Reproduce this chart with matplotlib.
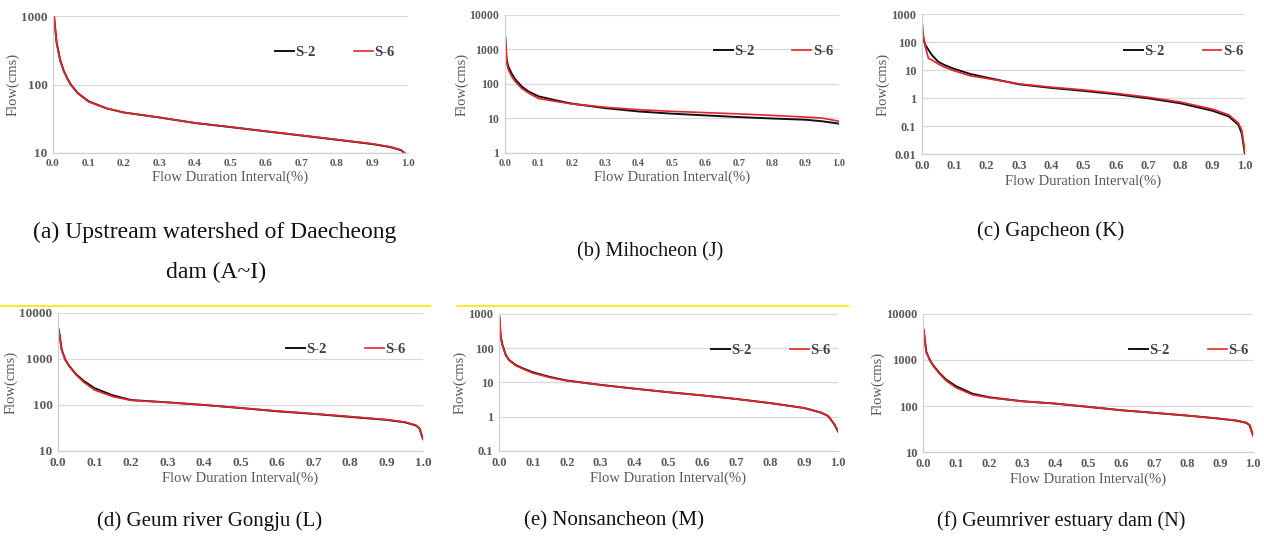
import matplotlib
matplotlib.use("Agg")
import matplotlib.pyplot as plt
from matplotlib.lines import Line2D
from matplotlib.ticker import FixedLocator, FuncFormatter, NullLocator

# --- Data ---
xa = [0.003, 0.01, 0.02, 0.03, 0.04, 0.05, 0.07, 0.1, 0.15, 0.2, 0.3, 0.4, 0.5, 0.6, 0.7, 0.8, 0.9, 0.95, 0.98, 0.99]
a_s2 = [1000, 420, 230, 160, 124, 100, 75, 57, 45, 39, 33, 27.4, 23.9, 20.7, 18, 15.6, 13.5, 12.2, 11, 10]
a_s6 = [1000, 410, 225, 158, 122, 99, 74, 56, 45, 39, 33, 27.5, 24, 20.8, 18.1, 15.7, 13.6, 12.3, 11.1, 10.1]

xb = [0.001, 0.005, 0.01, 0.02, 0.03, 0.05, 0.07, 0.1, 0.15, 0.2, 0.3, 0.4, 0.5, 0.6, 0.7, 0.8, 0.9, 0.95, 1.0]
b_s2 = [2300, 500, 325, 200, 140, 85, 61, 44, 34, 27, 20, 16, 13.8, 12.3, 11, 10, 9.2, 8.3, 7.1]
b_s6 = [2000, 420, 260, 165, 120, 74, 55, 38, 31.5, 26.5, 21.2, 18, 16.1, 14.8, 13.6, 12.3, 11, 10.3, 8.3]

xc = [0.001, 0.005, 0.01, 0.02, 0.03, 0.05, 0.07, 0.1, 0.15, 0.2, 0.3, 0.4, 0.5, 0.6, 0.7, 0.8, 0.9, 0.95, 0.98, 0.99, 1.0]
c_s2 = [200, 120, 80, 53, 35, 20, 15, 11, 7.2, 5.4, 3.1, 2.3, 1.8, 1.37, 0.98, 0.65, 0.35, 0.22, 0.11, 0.055, 0.01]
c_s6 = [475, 160, 70, 26, 23, 16.5, 12.6, 9.3, 6.2, 5.0, 3.2, 2.44, 1.95, 1.48, 1.07, 0.72, 0.4, 0.25, 0.126, 0.072, 0.012]

xd = [0.002, 0.01, 0.02, 0.03, 0.05, 0.07, 0.1, 0.15, 0.2, 0.3, 0.4, 0.5, 0.6, 0.7, 0.8, 0.9, 0.95, 0.98, 0.99, 1.0]
d_s2 = [4350, 1600, 960, 715, 460, 335, 232, 162, 128, 114, 100, 86, 73, 64, 55, 47.5, 42, 36, 31, 18]
d_s6 = [4300, 1560, 940, 700, 445, 315, 212, 152, 126, 114, 100, 86, 74, 64.5, 56, 48, 42.5, 36.5, 31, 18]

xe = [0.001, 0.005, 0.01, 0.02, 0.03, 0.05, 0.07, 0.1, 0.15, 0.2, 0.3, 0.4, 0.5, 0.6, 0.7, 0.8, 0.9, 0.95, 0.97, 0.98, 0.99, 1.0]
e_s2 = [835, 218, 125, 63, 45, 32, 26, 19.8, 14.5, 11.4, 8.5, 6.6, 5.2, 4.2, 3.3, 2.5, 1.8, 1.32, 1.06, 0.8, 0.58, 0.37]
e_s6 = [820, 215, 123, 62, 44, 31, 25, 18.8, 14, 11.2, 8.5, 6.6, 5.2, 4.2, 3.3, 2.5, 1.8, 1.32, 1.06, 0.8, 0.58, 0.37]

xf = [0.002, 0.01, 0.02, 0.03, 0.05, 0.07, 0.1, 0.15, 0.2, 0.3, 0.4, 0.5, 0.6, 0.7, 0.8, 0.9, 0.95, 0.98, 0.99, 1.0]
f_s2 = [4600, 1500, 1030, 780, 520, 375, 270, 185, 155, 127, 113, 96, 81, 71, 62, 53, 48, 43, 38, 23]
f_s6 = [4500, 1480, 1010, 760, 500, 355, 250, 175, 152, 127, 113, 96, 81, 71, 62, 53, 48.5, 43.5, 38, 23]

# y-axis decade ticks per panel
yticks_a = [10, 100, 1000]
yticks_b = [1, 10, 100, 1000, 10000]
yticks_c = [0.01, 0.1, 1, 10, 100, 1000]
yticks_d = [10, 100, 1000, 10000]
yticks_e = [0.1, 1, 10, 100, 1000]
yticks_f = [10, 100, 1000, 10000]
xticks = [0.0, 0.1, 0.2, 0.3, 0.4, 0.5, 0.6, 0.7, 0.8, 0.9, 1.0]

captions = ["(a) Upstream watershed of Daecheong", "dam (A~I)", "(b) Mihocheon (J)", "(c) Gapcheon (K)",
            "(d) Geum river Gongju (L)", "(e) Nonsancheon (M)", "(f) Geumriver estuary dam (N)"]

GRAY = "#595959"
SERIF = "Liberation Serif"

fig = plt.figure(figsize=(12.64, 5.41), dpi=100)

# axes rectangles in figure fractions, x/y tick label sizes
panels = [
    ([0.0419, 0.7172, 0.2809, 0.2532], xa, a_s2, a_s6, yticks_a, 8.0, 9.5),
    ([0.3995, 0.7172, 0.2642, 0.2551], xb, b_s2, b_s6, yticks_b, 7.5, 8.5),
    ([0.7294, 0.7153, 0.2555, 0.2588], xc, c_s2, c_s6, yticks_c, 9.0, 9.0),
    ([0.0459, 0.1664, 0.2888, 0.2551], xd, d_s2, d_s6, yticks_d, 9.5, 9.5),
    ([0.3948, 0.1664, 0.2682, 0.2532], xe, e_s2, e_s6, yticks_e, 9.0, 9.0),
    ([0.7302, 0.1645, 0.2611, 0.2551], xf, f_s2, f_s6, yticks_f, 9.0, 9.0),
]

for rect, x, s2, s6, yt, xfs, yfs in panels:
    ax = fig.add_axes(rect)
    ax.plot(x, s2, color="#111111", lw=1.4, label="S-2")
    ax.plot(x, s6, color="#e3262b", lw=1.2, label="S-6")
    ax.set_yscale("log")
    ax.set_ylim(yt[0], yt[-1])
    ax.set_xlim(0, 1)
    ax.yaxis.set_major_locator(FixedLocator(yt))
    ax.yaxis.set_minor_locator(NullLocator())
    ax.yaxis.set_major_formatter(FuncFormatter(lambda v, p: f"{v:g}"))
    ax.xaxis.set_major_locator(FixedLocator(xticks))
    ax.xaxis.set_major_formatter(FuncFormatter(lambda v, p: f"{v:.1f}"))
    ax.grid(axis="y", color="#d9d9d9", lw=0.9)
    ax.set_axisbelow(True)
    for s in ["top", "right"]:
        ax.spines[s].set_visible(False)
    for s in ["left", "bottom"]:
        ax.spines[s].set_color("#d0d0d0")
        ax.spines[s].set_linewidth(0.9)
    ax.tick_params(length=0, pad=4, labelcolor=GRAY)
    for lab in ax.get_xticklabels():
        lab.set_fontfamily(SERIF)
        lab.set_fontweight("bold")
        lab.set_fontsize(xfs)
    for lab in ax.get_yticklabels():
        lab.set_fontfamily(SERIF)
        lab.set_fontweight("bold")
        lab.set_fontsize(yfs)
    ax.set_xlabel("Flow Duration Interval(%)", family=SERIF, size=10.5, color=GRAY, labelpad=2)
    ax.set_ylabel("Flow(cms)", family=SERIF, size=10.5, color=GRAY, labelpad=1)
    leg = ax.legend(loc="center left", bbox_to_anchor=(0.625, 0.735), ncol=2, frameon=False,
                    handlelength=1.3, handletextpad=0.1, columnspacing=2.6,
                    borderpad=0, borderaxespad=0,
                    prop={"family": SERIF, "weight": "bold", "size": 10.5})
    for t in leg.get_texts():
        t.set_color("#404040")

# yellow separator lines above the lower row
fig.add_artist(Line2D([0.0, 430 / 1264], [0.4344, 0.4344], color="#ffe600", lw=1.2))
fig.add_artist(Line2D([457 / 1264, 848 / 1264], [0.4344, 0.4344], color="#ffe600", lw=1.2))

# panel captions
cap_pos = [(215, 232), (216, 272), (650, 252), (1051, 231), (210, 521), (614, 521), (1061, 521)]
cap_size = [17.0, 17.0, 14.5, 15.0, 15.0, 15.0, 14.5]
for txt, (px, py), fs in zip(captions, cap_pos, cap_size):
    fig.text(px / 1264, 1 - py / 541, txt, ha="center", va="center",
             family=SERIF, size=fs, color="#111111")

fig.savefig("out.png", dpi=100)
